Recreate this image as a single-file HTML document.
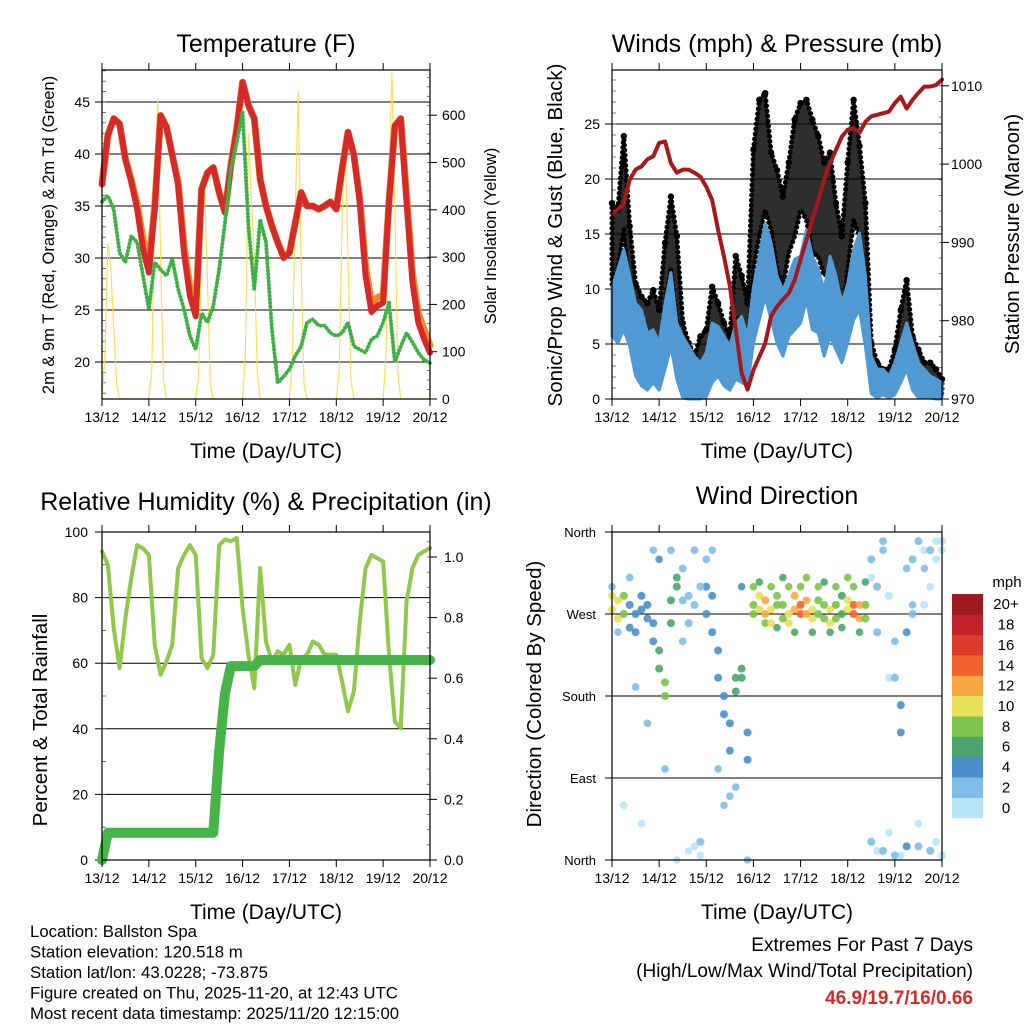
<!DOCTYPE html>
<html><head><meta charset="utf-8"><style>
html,body{margin:0;padding:0;background:#fff;}
svg{display:block;font-family:"Liberation Sans",sans-serif;}
</style></head><body>
<svg id="c" width="1024" height="1024" viewBox="0 0 1024 1024" xmlns="http://www.w3.org/2000/svg"></svg>
<script>
// ---------- data ----------
const dayLabels=["13/12","14/12","15/12","16/12","17/12","18/12","19/12","20/12"];
const temp2m=[37.1,41.8,43.4,42.9,39.5,37.3,34.7,30.9,28.6,34.7,43.7,42.6,39.9,37.0,30.5,26.4,24.4,36.6,38.2,38.7,36.3,34.4,38.9,42.4,46.9,44.7,43.4,37.6,35.0,33.1,31.5,30.0,30.5,33.4,36.3,35.0,35.0,34.7,35.0,35.4,34.7,38.6,42.1,39.9,35.4,28.3,24.8,25.4,25.7,35.4,42.7,43.4,35.4,27.7,23.8,22.2,20.9];
const temp9m=[37.1,41.8,43.4,42.9,39.5,37.5,35.2,31.8,29.5,35.0,43.7,42.6,39.9,37.3,31.2,27.2,25.2,36.6,38.2,38.7,36.3,34.4,38.9,42.4,46.9,44.7,43.4,37.6,35.0,33.1,31.5,30.2,30.5,33.4,36.3,35.0,35.0,34.7,35.0,35.4,34.7,38.6,42.1,39.9,35.8,29.2,25.6,26.2,26.4,35.4,42.7,43.4,36.0,28.5,24.7,23.1,21.6];
const dew2m=[35.4,36.0,34.7,30.5,29.6,32.1,31.5,28.3,25.1,29.6,28.9,28.3,29.9,27.0,25.1,22.5,21.2,24.7,23.8,25.4,28.9,33.4,38.6,41.1,44.0,33.1,27.0,33.7,31.5,23.2,18.0,18.6,19.3,20.6,21.5,23.8,24.1,23.5,23.5,22.8,22.5,22.8,23.8,21.5,21.2,20.9,22.2,22.5,23.8,25.7,20.0,21.5,22.8,21.9,20.9,20.2,19.9];
const solar=[0,90,330,280,150,30,0,0,0,0,0,0,0,0,0,0,
0,60,400,636,300,40,0,0,0,0,0,0,0,0,0,0,
0,50,300,460,250,30,0,0,0,0,0,0,0,0,0,0,
0,100,560,420,300,60,0,0,0,0,0,0,0,0,0,0,
0,80,400,650,280,30,0,0,0,0,0,0,0,0,0,0,
0,60,380,560,300,40,0,0,0,0,0,0,0,0,0,0,
0,100,450,690,400,60,0,0,0,0,0,0,0,0,0,0,0];
const pressure=[993.7,994.2,995.0,998.0,999.3,999.7,1000.6,1001.0,1002.7,1002.9,1000.1,998.9,999.3,999.3,998.9,998.4,997.1,995.4,991.6,988.2,984.4,978.9,973.3,971.2,973.7,975.4,977.1,980.6,981.8,982.7,983.5,985.2,987.8,990.3,992.9,995.4,998.0,1000.1,1001.8,1003.5,1004.4,1004.6,1004.0,1005.4,1006.1,1006.3,1006.5,1006.7,1007.8,1008.6,1007.1,1008.2,1009.1,1009.9,1009.9,1010.1,1010.8];
const windHi=[10.2,11.8,13.6,11.2,8.7,8.1,6.0,6.3,5.1,8.7,11.5,6.9,5.7,4.8,3.9,3.3,4.2,6.9,6.6,5.7,4.8,6.9,7.5,5.7,10.2,13.0,16.0,14.2,11.2,9.9,11.2,12.7,13.0,15.4,13.0,11.8,9.9,13.0,11.2,8.7,10.5,13.6,15.1,11.2,3.9,2.7,2.7,2.1,3.3,5.1,6.9,5.1,3.3,2.7,2.1,1.8,1.5];
const windLo=[5.7,5.1,6.3,4.8,2.1,1.2,0.8,1.5,0.8,2.7,4.8,1.8,0.1,0,0,0,0.2,1.5,2.1,1.2,0.8,1.8,1.5,1.2,5.1,7.2,9.3,7.2,5.1,3.9,5.7,6.3,6.9,9.0,6.3,6.0,3.9,5.7,4.5,3.3,5.1,7.2,8.1,4.8,0.5,0.1,0.4,0.1,0.4,1.5,2.7,0.8,0.1,0.2,0.1,0,0];
const gustHi=[17.8,17.2,23.9,15.7,10.5,9.3,8.7,9.9,8.1,14.2,18.4,14.8,6.9,5.1,3.9,5.7,6.3,10.2,8.7,6.9,5.7,13.0,11.2,8.7,22.7,27.2,27.8,22.4,20.8,18.4,21.5,25.4,26.9,27.2,25.4,23.9,21.5,22.4,17.8,14.8,21.5,27.2,23.0,17.8,5.1,3.3,2.7,2.7,4.5,8.1,10.8,5.7,4.5,3.3,3.3,2.7,1.8];
const gustLo=[10.2,11.8,15.4,8.7,5.1,4.2,3.3,4.2,3.3,8.7,11.8,7.2,2.7,1.5,0.8,1.2,2.7,5.7,4.5,3.3,2.7,7.5,6.3,4.2,11.8,14.8,17.2,15.4,11.8,10.2,13.3,14.8,17.2,16.3,13.3,13.0,11.2,11.8,8.7,6.3,11.8,16.3,14.8,8.7,2.1,1.2,0.8,0.8,1.5,3.9,5.7,2.1,1.5,1.2,0.8,0.8,0.5];
const rh=[94.1,90,70.7,58.5,73.8,86,96,95,93,65.6,56.5,60.5,65.6,89,93,96,93,61.5,58.5,62.6,96,97.7,97.2,98.2,76.8,62.6,52.4,89,66.6,60.5,63.6,62.6,65.6,53.4,61.5,62.6,66.6,65.6,62.6,62.6,62.6,54.4,45.3,51.4,72.7,89,93,92,91,62.6,42.2,40.2,78.8,89,93,94.1,95.1];
const precip=[0,0.09,0.09,0.09,0.09,0.09,0.09,0.09,0.09,0.09,0.09,0.09,0.09,0.09,0.09,0.09,0.09,0.09,0.09,0.09,0.36,0.55,0.64,0.64,0.64,0.64,0.64,0.66,0.66,0.66,0.66,0.66,0.66,0.66,0.66,0.66,0.66,0.66,0.66,0.66,0.66,0.66,0.66,0.66,0.66,0.66,0.66,0.66,0.66,0.66,0.66,0.66,0.66,0.66,0.66,0.66,0.66];
const dirA=[275,285,270,280,270,275,265,260,230,195,260,300,285,290,280,300,270,290,230,180,150,185,200,140,280,275,270,275,280,265,270,275,280,270,275,270,265,275,280,270,275,270,280,265,330,300,350,290,200,140,250,330,350,280,340,20,350];
const dirB=[290,265,290,255,250,290,280,240,210,180,285,310,320,260,340,20,300,250,200,160,120,200,210,110,270,290,285,260,290,280,260,290,270,285,265,285,280,260,265,290,285,280,265,280,20,250,10,200,5,170,15,270,15,340,10,330,5];
const speedAB=[9,10,8,4,3,3,4,3,6,7,5,6,2,2,1,1,3,3,4,4,3,5,6,3,8,10,12,10,8,7,9,11,13,12,10,8,7,9,8,6,10,13,11,8,1,1,1,0,2,3,4,1,1,0,1,0,0];
const dirC=[300,250,60,310,190,40,150,340,330,100,340,0,240,10,15,5,330,340,100,60,70,80,300,0,300,305,260,300,255,310,300,250,300,310,250,300,305,250,300,255,310,300,250,305,310,10,340,30,240,5,320,280,40,320,300,350,340];
const speedC=[1,1,0,2,1,0,1,2,3,1,2,0,1,0,0,0,1,1,2,1,1,2,3,1,7,6,8,7,6,5,7,6,8,7,6,7,5,6,7,6,8,7,6,5,0,0,1,0,1,0,1,2,0,1,0,0,0];
const cbLabels=["0","2","4","6","8","10","12","14","16","18","20+"];
const cbColors=["#b9e3f8","#7fbde6","#4a8fcb","#4aa56e","#7dc24a","#e6e05a","#f9a742","#f0622c","#de3a2b","#c4202a","#9c1a20"];

// ---------- helpers ----------
const NS="http://www.w3.org/2000/svg";
const svg=document.getElementById("c");
function mk(tag,attrs,parent){const e=document.createElementNS(NS,tag);for(const k in attrs)e.setAttribute(k,attrs[k]);(parent||svg).appendChild(e);return e;}
function txt(s,x,y,size,anchor,parent,extra){const t=mk("text",Object.assign({x:x,y:y,"font-size":size,"text-anchor":anchor||"middle",fill:"#000"},extra||{}),parent);t.textContent=s;return t;}
const TK=14;
function frame(p,name){
  const g=mk("g",{});
  
  
  return g;
}
function xAxis(p,g,titleY){
  for(let d=0;d<=7;d++){
    const x=p.x0+(p.x1-p.x0)*d/7;
    mk("line",{x1:x,y1:p.y1,x2:x,y2:p.y1+7,stroke:"#000","stroke-width":1},g);
    mk("line",{x1:x,y1:p.y0,x2:x,y2:p.y0-7,stroke:"#000","stroke-width":1},g);
    const t=txt(dayLabels[d],x,p.y1+23,TK,"middle",g);
    
    
  }
  const t=txt("Time (Day/UTC)",(p.x0+p.x1)/2,titleY,21,"middle",g);
  
  
}
function border(p,g){mk("rect",{x:p.x0,y:p.y0,width:p.x1-p.x0,height:p.y1-p.y0,fill:"none",stroke:"#000","stroke-width":1.2},g);}
function pts(arr,fx,fy){return arr.map((v,i)=>fx(i)+","+fy(v)).join(" ");}

// ---------- Panel 1 ----------
(function(){
  const p={x0:102,x1:430,y0:70,y1:399};
  const g=frame(p,"temperature-panel");
  const yT=v=>362-(v-20)*10.4;
  const yS=v=>399-v*0.473;
  const xi=i=>p.x0+(p.x1-p.x0)*i/56;
  const xs=i=>p.x0+(p.x1-p.x0)*i/112;
  [20,25,30,35,40,45].forEach(v=>{
    mk("line",{x1:p.x0-7,x2:p.x1,y1:yT(v),y2:yT(v),stroke:"#000","stroke-width":1},g);
    const t=txt(String(v),p.x0-12,yT(v)+5,TK,"end",g);
    
    
  });
  for(let v=17;v<=48;v++){mk("line",{x1:p.x0,x2:p.x0+4,y1:yT(v),y2:yT(v),stroke:"#555","stroke-width":0.8},g);}
  [0,100,200,300,400,500,600].forEach(v=>{
    mk("line",{x1:p.x1,x2:p.x1+7,y1:yS(v),y2:yS(v),stroke:"#000","stroke-width":1},g);
    const t=txt(String(v),p.x1+12,yS(v)+5,TK,"start",g);
    
    
  });
  for(let v=0;v<=680;v+=20){mk("line",{x1:p.x1,x2:p.x1-3,y1:yS(v),y2:yS(v),stroke:"#555","stroke-width":0.8},g);}
  const s=mk("polyline",{points:pts(solar,xs,yS),fill:"none",stroke:"#f7d940","stroke-width":1.2,"stroke-opacity":0.85},g);
  
  
  const o=mk("polyline",{points:pts(temp9m,xi,yT),fill:"none",stroke:"#f08a30","stroke-width":7,"stroke-linejoin":"round","stroke-linecap":"round"},g);
  
  
  const r=mk("polyline",{points:pts(temp2m,xi,yT),fill:"none",stroke:"#d42a2a","stroke-width":6,"stroke-linejoin":"round","stroke-linecap":"round"},g);
  
  
  const d=mk("polyline",{points:pts(dew2m,xi,yT),fill:"none",stroke:"#3fb048","stroke-width":4,"stroke-dasharray":"0.1 3.5","stroke-linecap":"round","stroke-linejoin":"round"},g);
  
  
  border(p,g);xAxis(p,g,458);
  const t=txt("Temperature (F)",266,52,25,"middle",g);
  
  
  const a=txt("2m & 9m T (Red, Orange) & 2m Td (Green)",0,0,16.5,"middle",g,{transform:"translate(54,235) rotate(-90)"});
  
  
  const b=txt("Solar Insolation (Yellow)",0,0,16.5,"middle",g,{transform:"translate(496,236) rotate(-90)"});
  
  
})();

// ---------- Panel 2 ----------
(function(){
  const p={x0:612,x1:942,y0:70,y1:399};
  const g=frame(p,"winds-panel");
  const yW=v=>399-v*11;
  const yP=v=>399-(v-970)*7.83;
  const xi=i=>p.x0+(p.x1-p.x0)*i/56;
  [5,10,15,20,25].forEach(v=>{mk("line",{x1:p.x0,x2:p.x1,y1:yW(v),y2:yW(v),stroke:"#000","stroke-width":1},g);});
  [0,5,10,15,20,25].forEach(v=>{
    mk("line",{x1:p.x0-7,x2:p.x0,y1:yW(v),y2:yW(v),stroke:"#000","stroke-width":1},g);
    const t=txt(String(v),p.x0-12,yW(v)+5,TK,"end",g);
    
    
  });
  for(let v=0;v<=29;v++){mk("line",{x1:p.x0,x2:p.x0+4,y1:yW(v),y2:yW(v),stroke:"#555","stroke-width":0.8},g);}
  [970,980,990,1000,1010].forEach(v=>{
    mk("line",{x1:p.x1,x2:p.x1+7,y1:yP(v),y2:yP(v),stroke:"#000","stroke-width":1},g);
    const t=txt(String(v),p.x1+9,yP(v)+5,TK,"start",g);
    
    
  });
  for(let v=970;v<=1012;v+=2){mk("line",{x1:p.x1,x2:p.x1-3,y1:yP(v),y2:yP(v),stroke:"#555","stroke-width":0.8},g);}
  const gp=gustHi.map((v,i)=>xi(i)+","+yW(v)).concat(gustLo.map((v,i)=>xi(i)+","+yW(v)).reverse()).join(" ");
  const gb=mk("polygon",{points:gp,fill:"#000","fill-opacity":0.82,stroke:"#000","stroke-width":5,"stroke-linejoin":"round","stroke-dasharray":"0.1 5","stroke-linecap":"round"},g);
  
  
  gustHi.forEach((v,i)=>{
    const c=mk("circle",{cx:xi(i),cy:yW(v),r:3.2,fill:"#000"},g);
    
    
  });
  const wp=windHi.map((v,i)=>xi(i)+","+yW(v)).concat(windLo.map((v,i)=>xi(i)+","+yW(v)).reverse()).join(" ");
  const wb=mk("polygon",{points:wp,fill:"#5199d3",stroke:"#5199d3","stroke-width":3,"stroke-linejoin":"round"},g);
  
  
  const pl=mk("polyline",{points:pts(pressure,xi,yP),fill:"none",stroke:"#a3191c","stroke-width":4,"stroke-linejoin":"round","stroke-linecap":"round"},g);
  
  
  border(p,g);xAxis(p,g,458);
  const t=txt("Winds (mph) & Pressure (mb)",777,52,25,"middle",g);
  
  
  const a=txt("Sonic/Prop Wind & Gust (Blue, Black)",0,0,20.5,"middle",g,{transform:"translate(562,235) rotate(-90)"});
  
  
  const b=txt("Station Pressure (Maroon)",0,0,20.5,"middle",g,{transform:"translate(1019,234) rotate(-90)"});
  
  
})();

// ---------- Panel 3 ----------
(function(){
  const p={x0:102,x1:430,y0:532,y1:860};
  const g=frame(p,"humidity-panel");
  const yR=v=>860-v*3.28;
  const yQ=v=>860-v*303;
  const xi=i=>p.x0+(p.x1-p.x0)*i/56;
  [20,40,60,80].forEach(v=>{mk("line",{x1:p.x0,x2:p.x1,y1:yR(v),y2:yR(v),stroke:"#000","stroke-width":1},g);});
  [0,20,40,60,80,100].forEach(v=>{
    mk("line",{x1:p.x0-7,x2:p.x0,y1:yR(v),y2:yR(v),stroke:"#000","stroke-width":1},g);
    const t=txt(String(v),p.x0-14,yR(v)+5,TK,"end",g);
    
    
  });
  for(let v=0;v<=100;v+=10){mk("line",{x1:p.x0,x2:p.x0+4,y1:yR(v),y2:yR(v),stroke:"#555","stroke-width":0.8},g);}
  ["0.0","0.2","0.4","0.6","0.8","1.0"].forEach(s=>{
    const v=parseFloat(s);
    mk("line",{x1:p.x1,x2:p.x1+7,y1:yQ(v),y2:yQ(v),stroke:"#000","stroke-width":1},g);
    const t=txt(s,p.x1+14,yQ(v)+5,TK,"start",g);
    
    
  });
  for(let v=0;v<=1.08;v+=0.05){mk("line",{x1:p.x1,x2:p.x1-3,y1:yQ(v),y2:yQ(v),stroke:"#555","stroke-width":0.8},g);}
  const r=mk("polyline",{points:pts(rh,xi,yR),fill:"none",stroke:"#8fc84a","stroke-width":4,"stroke-linejoin":"round","stroke-linecap":"round"},g);
  
  
  const q=mk("polyline",{points:pts(precip,xi,yQ),fill:"none",stroke:"#47b449","stroke-width":10,"stroke-linejoin":"round","stroke-linecap":"round"},g);
  
  
  border(p,g);xAxis(p,g,919);
  const t=txt("Relative Humidity (%) & Precipitation (in)",266,510,25,"middle",g);
  
  
  const a=txt("Percent & Total Rainfall",0,0,20.5,"middle",g,{transform:"translate(47,720) rotate(-90)"});
  
  
})();

// ---------- Panel 4 ----------
(function(){
  const p={x0:612,x1:942,y0:532,y1:860};
  const g=frame(p,"wind-direction-panel");
  const yD=v=>860-v*(328/360);
  const xi=i=>p.x0+(p.x1-p.x0)*i/56;
  const col=s=>cbColors[Math.max(0,Math.min(10,Math.floor((s+1)/2)))];
  [90,180,270].forEach(v=>{mk("line",{x1:p.x0,x2:p.x1,y1:yD(v),y2:yD(v),stroke:"#000","stroke-width":1},g);});
  [["North",0],["East",90],["South",180],["West",270],["North",360]].forEach(a=>{
    mk("line",{x1:p.x0-7,x2:p.x0,y1:yD(a[1]),y2:yD(a[1]),stroke:"#000","stroke-width":1},g);
    const t=txt(a[0],p.x0-16,yD(a[1])+5,TK-1,"end",g);
    
    
  });
  dirC.forEach((v,i)=>{
    const c=mk("circle",{cx:xi(i),cy:yD(v),r:3.8,fill:col(speedC[i]),"fill-opacity":0.9},g);
    
    
  });
  dirB.forEach((v,i)=>{
    const c=mk("circle",{cx:xi(i),cy:yD(v),r:4,fill:col(speedAB[i]),"fill-opacity":0.9},g);
    
    
  });
  dirA.forEach((v,i)=>{
    const c=mk("circle",{cx:xi(i),cy:yD(v),r:4,fill:col(speedAB[i]),"fill-opacity":0.9},g);
    
    
  });
  border(p,g);xAxis(p,g,919);
  const t=txt("Wind Direction",777,504,25,"middle",g);
  
  
  const a=txt("Direction (Colored By Speed)",0,0,20.5,"middle",g,{transform:"translate(541,694) rotate(-90)"});
  
  
  const cb=mk("g",{},g);
  
  
  const bh=(818-594)/11;
  cbColors.forEach((c,i)=>{
    const r=mk("rect",{x:952,y:818-(i+1)*bh,width:31,height:bh+0.3,fill:c},cb);
    
    
    const l=txt(cbLabels[i],1006,818-(i+0.5)*bh+5,15,"middle",cb);
    
    
  });
  const m=txt("mph",1007,587,15,"middle",cb);
  
  
})();

// ---------- footer ----------
const info=["Location: Ballston Spa","Station elevation: 120.518 m","Station lat/lon: 43.0228; -73.875","Figure created on Thu, 2025-11-20, at 12:43 UTC","Most recent data timestamp: 2025/11/20 12:15:00"];
info.forEach((s,i)=>{
  const t=txt(s,30,937+i*20.5,16.8,"start");
  
  
});
const e1=txt("Extremes For Past 7 Days",973,951,19,"end");


const e2=txt("(High/Low/Max Wind/Total Precipitation)",973,977,19,"end");


const e3=txt("46.9/19.7/16/0.66",973,1004,19,"end",null,{fill:"#d42a2a","font-weight":"bold"});


</script>
</body></html>
